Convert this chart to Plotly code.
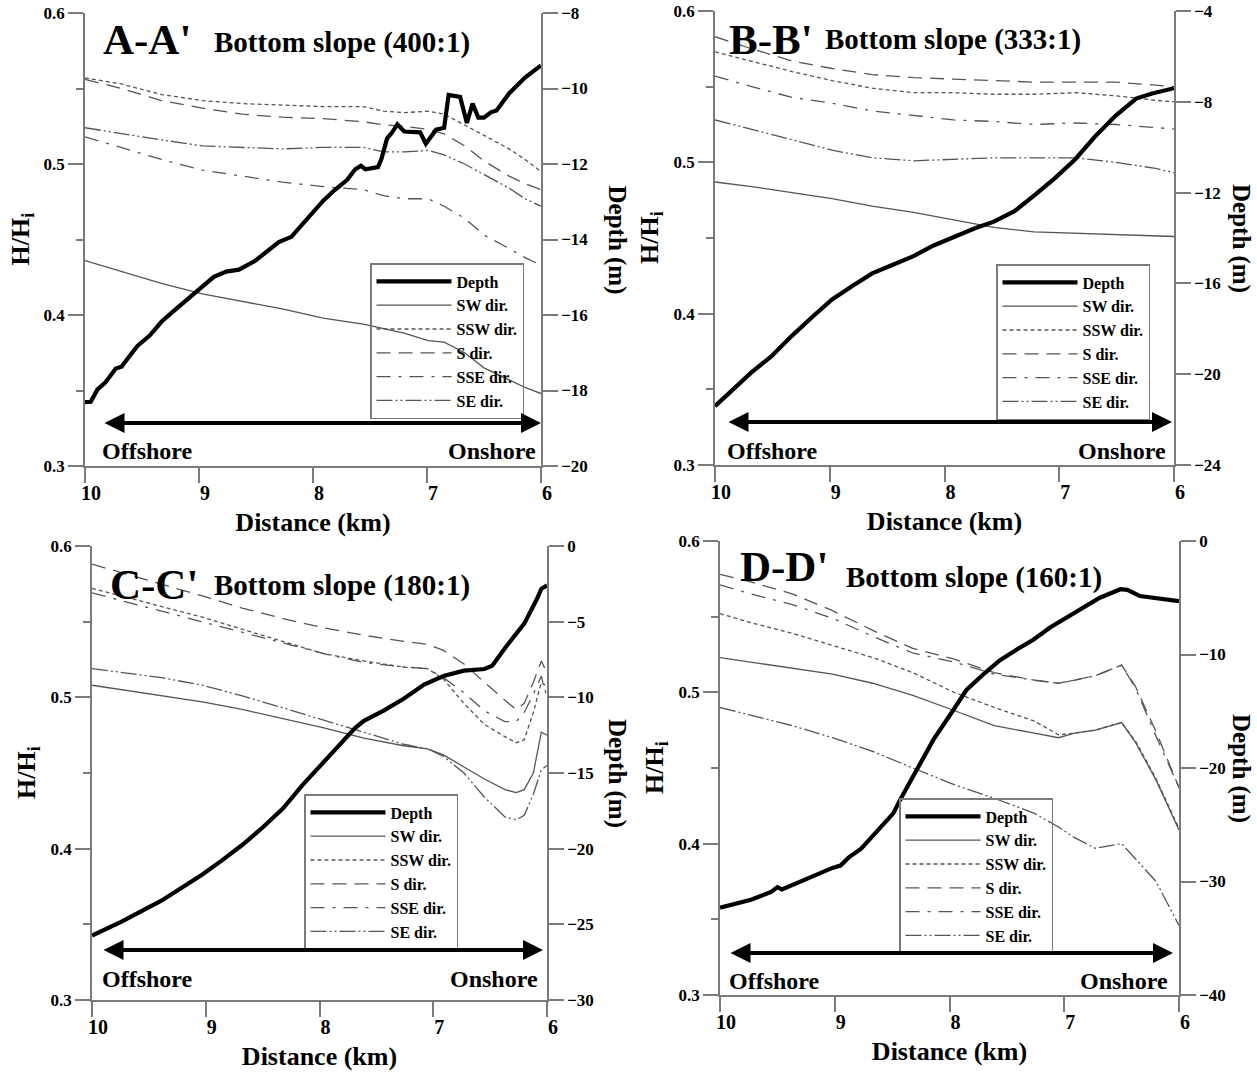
import plotly.graph_objects as go

W, H = 1257, 1074
FONT = "Liberation Serif"
GRAY = "#7a7a7a"
WAVE = "#555555"

# ---------------- Panel A (A-A', 400:1) ----------------
A_dist = [10.0, 9.68, 9.33, 8.97, 8.62, 8.27, 7.91, 7.56, 7.38, 7.20, 6.99, 6.85, 6.67, 6.50, 6.28, 6.14, 6.0]
A_SW = [0.436, 0.429, 0.421, 0.414, 0.409, 0.404, 0.398, 0.394, 0.391, 0.388, 0.383, 0.382, 0.375, 0.365, 0.357, 0.352, 0.348]
A_SSW = [0.557, 0.553, 0.546, 0.542, 0.540, 0.539, 0.538, 0.538, 0.535, 0.534, 0.535, 0.533, 0.526, 0.519, 0.510, 0.503, 0.495]
A_S = [0.556, 0.550, 0.542, 0.537, 0.533, 0.531, 0.530, 0.528, 0.526, 0.525, 0.523, 0.520, 0.512, 0.502, 0.492, 0.487, 0.483]
A_SSE = [0.518, 0.511, 0.503, 0.496, 0.492, 0.488, 0.485, 0.483, 0.479, 0.477, 0.477, 0.472, 0.464, 0.453, 0.444, 0.438, 0.433]
A_SE = [0.524, 0.520, 0.516, 0.512, 0.511, 0.510, 0.511, 0.511, 0.508, 0.508, 0.509, 0.506, 0.500, 0.493, 0.484, 0.477, 0.472]
A_depth_dist = [10.0, 9.95, 9.89, 9.82, 9.73, 9.68, 9.61, 9.54, 9.43, 9.33, 9.19, 9.08, 8.97, 8.87,
                8.76, 8.65, 8.51, 8.41, 8.30, 8.19, 8.12, 8.02, 7.91, 7.81, 7.70, 7.63, 7.58, 7.54,
                7.43, 7.40, 7.35, 7.31, 7.26, 7.20, 7.06, 7.01, 6.92, 6.85, 6.81, 6.71, 6.65, 6.60,
                6.55, 6.50, 6.44, 6.39, 6.28, 6.14, 6.0]
A_depth = [-18.31, -18.30, -17.97, -17.78, -17.42, -17.37, -17.09, -16.82, -16.54, -16.18, -15.81, -15.54,
           -15.26, -14.99, -14.85, -14.80, -14.57, -14.34, -14.07, -13.93, -13.70, -13.34, -12.97, -12.69,
           -12.42, -12.14, -12.05, -12.14, -12.08, -11.87, -11.32, -11.18, -10.95, -11.14, -11.16, -11.46,
           -11.09, -11.04, -10.17, -10.22, -10.91, -10.40, -10.77, -10.77, -10.63, -10.58, -10.13, -9.71, -9.39]

# ---------------- Panel B (B-B', 333:1) ----------------
B_dist = [10.0, 9.68, 9.33, 8.98, 8.63, 8.27, 7.92, 7.57, 7.22, 6.86, 6.51, 6.16, 6.0]
B_SW = [0.487, 0.484, 0.480, 0.476, 0.471, 0.467, 0.462, 0.457, 0.454, 0.453, 0.452, 0.451, 0.451]
B_SSW = [0.573, 0.567, 0.560, 0.554, 0.549, 0.546, 0.546, 0.545, 0.545, 0.546, 0.544, 0.541, 0.540]
B_S = [0.583, 0.575, 0.567, 0.562, 0.558, 0.556, 0.555, 0.554, 0.553, 0.553, 0.553, 0.551, 0.550]
B_SSE = [0.557, 0.550, 0.543, 0.539, 0.534, 0.531, 0.528, 0.527, 0.525, 0.526, 0.525, 0.523, 0.522]
B_SE = [0.528, 0.522, 0.515, 0.508, 0.503, 0.501, 0.502, 0.503, 0.503, 0.503, 0.500, 0.496, 0.493]
B_depth_dist = [10.0, 9.86, 9.68, 9.51, 9.33, 9.15, 8.98, 8.80, 8.63, 8.45, 8.27, 8.10, 7.92, 7.74,
                7.57, 7.39, 7.22, 7.04, 6.86, 6.69, 6.51, 6.33, 6.19, 6.0]
B_depth = [-21.41, -20.75, -19.91, -19.22, -18.31, -17.47, -16.71, -16.10, -15.56, -15.18, -14.80, -14.34,
           -13.96, -13.58, -13.28, -12.82, -12.13, -11.37, -10.53, -9.54, -8.62, -7.86, -7.63, -7.40]

# ---------------- Panel C (C-C', 180:1) ----------------
C_dist = [10.0, 9.39, 9.03, 8.68, 8.32, 7.97, 7.61, 7.26, 7.05, 6.91, 6.73, 6.55, 6.37, 6.27, 6.20, 6.12, 6.05, 6.0]
C_SW = [0.508, 0.501, 0.497, 0.492, 0.486, 0.480, 0.473, 0.468, 0.466, 0.462, 0.454, 0.446, 0.439, 0.437, 0.439, 0.450, 0.477, 0.475]
C_SSW = [0.572, 0.560, 0.553, 0.545, 0.537, 0.529, 0.524, 0.520, 0.519, 0.512, 0.496, 0.482, 0.474, 0.470, 0.472, 0.490, 0.510, 0.507]
C_S = [0.588, 0.575, 0.567, 0.559, 0.552, 0.546, 0.541, 0.537, 0.535, 0.531, 0.522, 0.510, 0.498, 0.492, 0.496, 0.510, 0.524, 0.516]
C_SSE = [0.569, 0.557, 0.550, 0.543, 0.536, 0.529, 0.523, 0.520, 0.519, 0.513, 0.503, 0.491, 0.484, 0.484, 0.490, 0.502, 0.514, 0.500]
C_SE = [0.519, 0.513, 0.508, 0.501, 0.493, 0.485, 0.477, 0.469, 0.466, 0.461, 0.450, 0.434, 0.421, 0.419, 0.422, 0.436, 0.452, 0.455]
C_depth_dist = [10.0, 9.74, 9.39, 9.03, 8.86, 8.68, 8.50, 8.32, 8.15, 7.97, 7.79, 7.69, 7.61, 7.44,
                7.26, 7.08, 6.91, 6.73, 6.55, 6.48, 6.37, 6.20, 6.09, 6.05, 6.0]
C_depth = [-25.74, -24.82, -23.44, -21.71, -20.79, -19.76, -18.60, -17.34, -15.80, -14.30, -12.80, -12.05,
           -11.55, -10.89, -10.09, -9.16, -8.59, -8.24, -8.13, -7.90, -6.75, -5.13, -3.52, -2.83, -2.60]

# ---------------- Panel D (D-D', 160:1) ----------------
D_dist = [10.0, 9.73, 9.37, 9.02, 8.67, 8.32, 7.96, 7.61, 7.26, 7.05, 6.91, 6.73, 6.50, 6.38, 6.20, 6.0]
D_SW = [0.523, 0.520, 0.516, 0.512, 0.506, 0.498, 0.488, 0.478, 0.473, 0.470, 0.473, 0.475, 0.480, 0.467, 0.442, 0.409]
D_SSW = [0.552, 0.546, 0.539, 0.531, 0.523, 0.513, 0.500, 0.490, 0.481, 0.472, 0.473, 0.475, 0.480, 0.468, 0.443, 0.410]
D_S = [0.578, 0.573, 0.565, 0.554, 0.541, 0.529, 0.522, 0.513, 0.508, 0.506, 0.508, 0.511, 0.518, 0.504, 0.474, 0.437]
D_SSE = [0.571, 0.565, 0.558, 0.549, 0.537, 0.526, 0.520, 0.512, 0.508, 0.506, 0.508, 0.511, 0.518, 0.503, 0.471, 0.437]
D_SE = [0.490, 0.485, 0.478, 0.470, 0.461, 0.450, 0.439, 0.430, 0.420, 0.411, 0.404, 0.397, 0.400, 0.390, 0.375, 0.346]
D_depth_dist = [10.0, 9.73, 9.55, 9.50, 9.46, 9.37, 9.20, 9.09, 9.02, 8.95, 8.88, 8.77, 8.67, 8.49, 8.43,
                8.32, 8.14, 8.0, 7.85, 7.70, 7.56, 7.42, 7.27, 7.12, 6.98, 6.84, 6.69, 6.51, 6.45, 6.34,
                6.20, 6.05, 6.0]
D_depth = [-32.3, -31.6, -30.9, -30.5, -30.7, -30.3, -29.6, -29.1, -28.8, -28.6, -27.9, -27.1, -26.0, -24.0,
           -22.8, -20.8, -17.5, -15.4, -13.1, -11.7, -10.5, -9.6, -8.7, -7.6, -6.75, -5.9, -5.0, -4.25,
           -4.3, -4.85, -5.05, -5.2, -5.3]

SERIES_NAMES = ["SW dir.", "SSW dir.", "S dir.", "SSE dir.", "SE dir."]
DASHES = ["solid", "4px,3px", "14px,8px", "14px,8px,3px,8px", "16px,3px,2px,3px,2px,3px"]

panels = [
    dict(label="A-A'", slope="Bottom slope (400:1)", dist=A_dist,
         waves=[A_SW, A_SSW, A_S, A_SSE, A_SE], ddist=A_depth_dist, depth=A_depth,
         drange=[-20, -8], dtick=2, px=(85, 541), py=(13, 466),
         lab=(101, 40), slp=(212, 42), leg=(370, 263), arrow=(103, 541, 423),
         off=(100, 451), on=(538, 451), dtitle_x=617),
    dict(label="B-B'", slope="Bottom slope (333:1)", dist=B_dist,
         waves=[B_SW, B_SSW, B_S, B_SSE, B_SE], ddist=B_depth_dist, depth=B_depth,
         drange=[-24, -4], dtick=4, px=(715, 1174), py=(11, 465),
         lab=(727, 40), slp=(823, 40), leg=(996, 264), arrow=(727, 1172, 422),
         off=(725, 451), on=(1168, 451), dtitle_x=1241),
    dict(label="C-C'", slope="Bottom slope (180:1)", dist=C_dist,
         waves=[C_SW, C_SSW, C_S, C_SSE, C_SE], ddist=C_depth_dist, depth=C_depth,
         drange=[-30, 0], dtick=5, px=(92, 547), py=(546, 1000),
         lab=(108, 584), slp=(212, 585), leg=(304, 794), arrow=(102, 543, 950),
         off=(100, 979), on=(540, 979), dtitle_x=617),
    dict(label="D-D'", slope="Bottom slope (160:1)", dist=D_dist,
         waves=[D_SW, D_SSW, D_S, D_SSE, D_SE], ddist=D_depth_dist, depth=D_depth,
         drange=[-40, 0], dtick=10, px=(720, 1179), py=(541, 995),
         lab=(738, 566), slp=(844, 577), leg=(899, 798), arrow=(729, 1173, 953),
         off=(727, 981), on=(1170, 981), dtitle_x=1241),
]


def fx(p):
    return p / W


def fy(p):
    return 1 - p / H


fig = go.Figure()
annotations = []
layout = dict(
    width=W, height=H, margin=dict(l=0, r=0, t=0, b=0, autoexpand=False),
    paper_bgcolor="white", plot_bgcolor="rgba(0,0,0,0)", showlegend=True,
    font=dict(family=FONT, color="black"),
)

for i, p in enumerate(panels):
    k = i + 1
    xname = "x" if k == 1 else f"x{k}"
    yl = 2 * k - 1
    yr = 2 * k
    ylname = "y" if yl == 1 else f"y{yl}"
    yrname = f"y{yr}"
    legname = "legend" if k == 1 else f"legend{k}"

    for j, (nm, dash, vals) in enumerate(zip(SERIES_NAMES, DASHES, p["waves"])):
        fig.add_trace(go.Scatter(
            x=p["dist"], y=vals, mode="lines", name=nm,
            line=dict(color=WAVE, width=1.3, dash=dash),
            xaxis=xname, yaxis=ylname, legend=legname, legendrank=j + 2,
            hoverinfo="skip"))
    fig.add_trace(go.Scatter(
        x=p["ddist"], y=p["depth"], mode="lines", name="Depth",
        line=dict(color="black", width=4.2),
        xaxis=xname, yaxis=yrname, legend=legname, legendrank=1,
        hoverinfo="skip"))

    xdom = [fx(p["px"][0]), fx(p["px"][1])]
    ydom = [fy(p["py"][1]), fy(p["py"][0])]
    axkey = "xaxis" if k == 1 else f"xaxis{k}"
    ylkey = "yaxis" if yl == 1 else f"yaxis{yl}"
    yrkey = f"yaxis{yr}"
    layout[axkey] = dict(
        domain=xdom, anchor=ylname, range=[10, 6], dtick=1, tick0=6,
        showline=True, linecolor=GRAY, linewidth=1.5, ticks="outside", ticklen=15,
        tickwidth=1.5, tickcolor=GRAY, showgrid=False, zeroline=False,
        tickfont=dict(family=FONT, size=20, color="black", weight="bold"),
        ticklabelshift=-6, ticklabelstandoff=-7, ticklabeloverflow="allow",
        automargin=False,
        title=dict(text="Distance (km)", standoff=10,
                   font=dict(family=FONT, size=26, color="black", weight="bold")))
    layout[ylkey] = dict(
        domain=ydom, anchor=xname, range=[0.3, 0.6], dtick=0.1, tick0=0.3,
        tickformat=".1f", showline=True, linecolor=GRAY, linewidth=1.5,
        ticks="outside", ticklen=15, tickwidth=1.5, tickcolor=GRAY,
        showgrid=False, zeroline=False, automargin=False, ticklabeloverflow="allow",
        minor=dict(dtick=0.05, ticks="outside", ticklen=7, tickcolor=GRAY, tickwidth=1.5),
        tickfont=dict(family=FONT, size=17, color="black", weight="bold"))
    layout[yrkey] = dict(
        domain=ydom, anchor=xname, overlaying=ylname, side="right",
        range=p["drange"], dtick=p["dtick"], tick0=p["drange"][0],
        showline=True, linecolor=GRAY, linewidth=1.5, ticks="outside", ticklen=15,
        tickwidth=1.5, tickcolor=GRAY, showgrid=False, zeroline=False, automargin=False,
        ticklabeloverflow="allow",
        tickfont=dict(family=FONT, size=17, color="black", weight="bold"))
    layout[legname] = dict(
        x=fx(p["leg"][0]), y=fy(p["leg"][1]), xanchor="left", yanchor="top",
        xref="paper", yref="paper",
        bgcolor="rgba(0,0,0,0)", bordercolor=GRAY, borderwidth=1.5,
        font=dict(family=FONT, size=16, color="black", weight="bold"),
        itemwidth=75, tracegroupgap=0, traceorder="normal")

    # panel labels
    annotations.append(dict(text=p["label"], x=fx(p["lab"][0]), y=fy(p["lab"][1]),
                            xref="paper", yref="paper", xanchor="left", yanchor="middle",
                            showarrow=False,
                            font=dict(family=FONT, size=43, color="black", weight="bold")))
    annotations.append(dict(text=p["slope"], x=fx(p["slp"][0]), y=fy(p["slp"][1]),
                            xref="paper", yref="paper", xanchor="left", yanchor="middle",
                            showarrow=False,
                            font=dict(family=FONT, size=29, color="black", weight="bold")))
    # offshore / onshore
    annotations.append(dict(text="Offshore", x=fx(p["off"][0]), y=fy(p["off"][1]),
                            xref="paper", yref="paper", xanchor="left", yanchor="middle",
                            showarrow=False,
                            font=dict(family=FONT, size=24, color="black", weight="bold")))
    annotations.append(dict(text="Onshore", x=fx(p["on"][0]), y=fy(p["on"][1]),
                            xref="paper", yref="paper", xanchor="right", yanchor="middle",
                            showarrow=False,
                            font=dict(family=FONT, size=24, color="black", weight="bold")))
    # double arrow
    ax0, ax1, ay = p["arrow"]
    annotations.append(dict(text="", x=fx(ax1), y=fy(ay), ax=-(ax1 - ax0), ay=0,
                            xref="paper", yref="paper",
                            showarrow=True, arrowhead=2, arrowside="end+start",
                            arrowsize=1.0, arrowwidth=4, arrowcolor="black"))
    # axis titles
    ymid = (p["py"][0] + p["py"][1]) / 2
    annotations.append(dict(text="H/H<sub>i</sub>", x=fx(p["px"][0] - 82), y=fy(ymid),
                            xref="paper", yref="paper", xanchor="left", yanchor="middle",
                            textangle=-90, showarrow=False,
                            font=dict(family=FONT, size=26, color="black", weight="bold")))
    annotations.append(dict(text="Depth (m)", x=fx(p["dtitle_x"]), y=fy(ymid),
                            xref="paper", yref="paper", xanchor="center", yanchor="middle",
                            textangle=90, showarrow=False,
                            font=dict(family=FONT, size=25, color="black", weight="bold")))

layout["annotations"] = annotations
fig.update_layout(**layout)
# remove the browser's default 8px body margin so the figure fills the window
fig.write_html("out.html", config={"displayModeBar": False},
               post_script="document.body.style.margin='0px';")
